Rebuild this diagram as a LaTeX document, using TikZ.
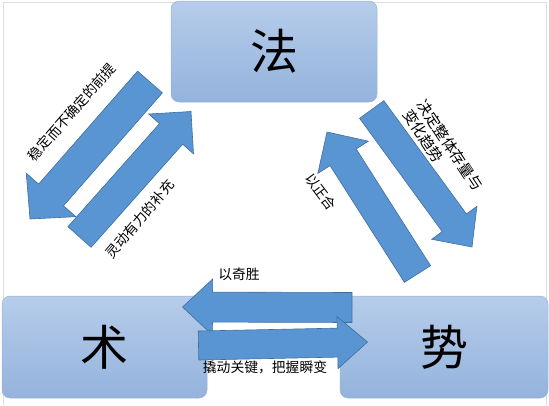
\documentclass[tikz,border=0pt]{standalone}
\usepackage{fontspec}
\newfontfamily\cjk{Noto Sans CJK SC}
\usetikzlibrary{calc}
\definecolor{boxtop}{HTML}{B6CCEA}
\definecolor{boxbot}{HTML}{94B3DC}
\definecolor{boxline}{HTML}{9AB4D8}
\definecolor{arrfill}{HTML}{5A95D3}
\definecolor{arrline}{HTML}{3E6E9E}
\definecolor{frameline}{HTML}{DDDDDD}
\newcommand\blockarr[5]{%
  \coordinate (ba) at ($(#2)!#5!(#1)$);
  \filldraw[arrstyle] ($(#1)!#3!90:(#2)$) -- ($(ba)!#3!90:(#2)$) -- ($(ba)!#4!90:(#2)$) -- (#2)
    -- ($(ba)!#4!-90:(#2)$) -- ($(ba)!#3!-90:(#2)$) -- ($(#1)!#3!-90:(#2)$) -- cycle;}
\begin{document}
\begin{tikzpicture}[x=1pt,y=-1pt,
  boxstyle/.style={draw=boxline, line width=0.5pt, rounded corners=8pt, top color=boxtop, bottom color=boxbot,
    inner sep=0pt, font=\cjk\fontsize{48}{50}\selectfont},
  arrstyle/.style={fill=arrfill, draw=arrline, line width=0.6pt, line join=miter},
  lbl/.style={inner sep=0pt, font=\cjk\fontsize{13.8}{16.5}\selectfont}]
\useasboundingbox (0,0) rectangle (549,405);
\draw[frameline, line width=0.8pt] (3,405) -- (3,2.5) -- (546,2.5) -- (546,405);
% boxes
\node[boxstyle, minimum width=206pt, minimum height=101pt] (fa) at (274,51.5) {法};
\node[boxstyle, minimum width=205pt, minimum height=102pt] (shu) at (104.5,347) {术};
\node[boxstyle, minimum width=208pt, minimum height=102pt] (shi) at (444,347) {势};
% arrow coordinates
\coordinate (a1t) at (150,82);    \coordinate (a1h) at (30,219);
\coordinate (a2t) at (79.5,237);  \coordinate (a2h) at (191,111.5);
\coordinate (a3t) at (371.7,109.5); \coordinate (a3h) at (472,247);
\coordinate (a4t) at (417.5,274); \coordinate (a4h) at (327,132);
\coordinate (a5t) at (352,307.5); \coordinate (a5h) at (182.5,307);
\coordinate (a6t) at (198.5,345.5); \coordinate (a6h) at (367.5,342);
\blockarr{a1t}{a1h}{16.5pt}{33pt}{32pt}
\blockarr{a2t}{a2h}{15.5pt}{30pt}{30pt}
\blockarr{a3t}{a3h}{15pt}{28pt}{30pt}
\blockarr{a4t}{a4h}{15.5pt}{30pt}{30pt}
\blockarr{a5t}{a5h}{15pt}{28pt}{30pt}
\blockarr{a6t}{a6h}{14.5pt}{26pt}{30pt}
% labels
\node[lbl, rotate=48.5] (l1) at (72,112) {稳定而不确定的前提};
\node[lbl, rotate=50] (l2) at (140,219) {灵动有力的补充};
\node[lbl, rotate=-56.5, align=left, font=\cjk\fontsize{15}{17}\selectfont] (l3) at (443,150) {决定整体存量与\\变化趋势};
\node[lbl, rotate=-53] (l4) at (321,192) {以正合};
\node[lbl] (l5) at (239,274) {以奇胜};
\node[lbl] (l6) at (265,367) {撬动关键，把握瞬变};
\end{tikzpicture}
\end{document}
